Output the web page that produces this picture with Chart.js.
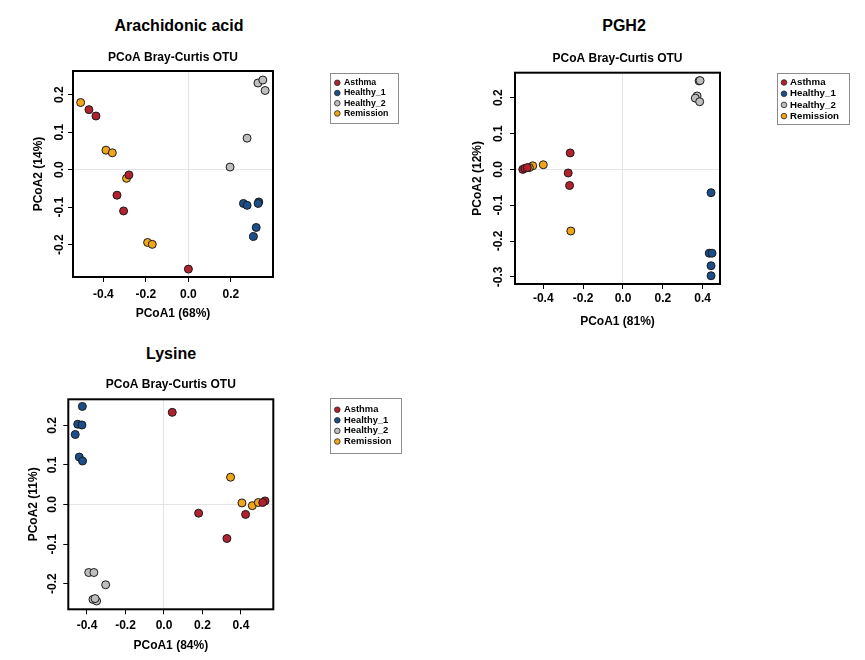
<!DOCTYPE html>
<html>
<head>
<meta charset="utf-8">
<title>PCoA Bray-Curtis OTU</title>
<script src="https://cdn.jsdelivr.net/npm/chart.js@4.4.1/dist/chart.umd.min.js"></script>
<style>
  body { margin: 0; background: #fff; width: 865px; height: 660px; position: relative; overflow: hidden; font-family: "Liberation Sans", Arial, sans-serif; }
  canvas { position: absolute; }
  .main-title { position: absolute; font-weight: bold; font-size: 16px; color: #000; transform: translate(-50%, -50%); white-space: nowrap; }
</style>
</head>
<body>
<div class="main-title" style="left:179px; top:26px">Arachidonic acid</div>
<div class="main-title" style="left:624px; top:26px">PGH2</div>
<div class="main-title" style="left:171px; top:354px">Lysine</div>
<canvas id="araChart" width="440" height="330" style="left:0; top:0"></canvas>
<canvas id="pghChart" width="425" height="330" style="left:440px; top:0"></canvas>
<canvas id="lysChart" width="440" height="330" style="left:0; top:330px"></canvas>
<script>
// groups, same order as the legend
const groups = ["Asthma", "Healthy_1", "Healthy_2", "Remission"];
const groupColors = ["#b2222e", "#1c4f8a", "#bebebe", "#f1a51a"];

// Arachidonic acid: [PCoA1, PCoA2]
const araAsthma = [[-0.468, 0.160], [-0.435, 0.143], [-0.280, -0.014], [-0.336, -0.068], [-0.305, -0.110], [0.000, -0.265]];
const araHealthy1 = [[0.259, -0.090], [0.276, -0.095], [0.331, -0.086], [0.328, -0.090], [0.319, -0.154], [0.306, -0.178]];
const araHealthy2 = [[0.327, 0.231], [0.350, 0.239], [0.361, 0.211], [0.276, 0.084], [0.196, 0.007]];
const araRemission = [[-0.507, 0.179], [-0.388, 0.052], [-0.358, 0.045], [-0.291, -0.023], [-0.192, -0.194], [-0.170, -0.199]];
const araXRange = [-0.543, 0.398];
const araYRange = [-0.286, 0.263];

// PGH2
const pghAsthma = [[-0.265, 0.046], [-0.275, -0.010], [-0.268, -0.045], [-0.503, 0.000], [-0.492, 0.003], [-0.480, 0.005]];
const pghHealthy1 = [[0.442, -0.065], [0.433, -0.234], [0.447, -0.234], [0.442, -0.269], [0.442, -0.297]];
const pghHealthy2 = [[0.382, 0.247], [0.387, 0.248], [0.372, 0.205], [0.363, 0.199], [0.385, 0.189]];
const pghRemission = [[-0.262, -0.172], [-0.400, 0.013], [-0.453, 0.010], [-0.470, 0.005]];
const pghXRange = [-0.542, 0.487];
const pghYRange = [-0.320, 0.270];

// Lysine
const lysAsthma = [[0.043, 0.233], [0.180, -0.022], [0.327, -0.086], [0.424, -0.025], [0.525, 0.009], [0.513, 0.005]];
const lysHealthy1 = [[-0.424, 0.248], [-0.448, 0.203], [-0.426, 0.201], [-0.461, 0.177], [-0.440, 0.120], [-0.423, 0.110]];
const lysHealthy2 = [[-0.391, -0.172], [-0.364, -0.172], [-0.303, -0.203], [-0.369, -0.240], [-0.350, -0.244], [-0.358, -0.238]];
const lysRemission = [[0.346, 0.069], [0.405, 0.004], [0.459, -0.003], [0.490, 0.005]];
const lysXRange = [-0.497, 0.568];
const lysYRange = [-0.265, 0.266];

Chart.defaults.font.family = "'Liberation Sans', Arial, sans-serif";

// black frame round the plot region
const plotBox = {
    id: "plotBox",
    afterDatasetsDraw: function (chart) {
        const a = chart.chartArea, ctx = chart.ctx;
        ctx.save();
        ctx.strokeStyle = "#000";
        ctx.lineWidth = 2;
        ctx.strokeRect(a.left, a.top, a.right - a.left, a.bottom - a.top);
        ctx.restore();
    }
};

// boxed legend, like R's legend()
const boxLegend = {
    id: "boxLegend",
    afterDraw: function (chart, args, o) {
        const ctx = chart.ctx;
        ctx.save();
        ctx.strokeStyle = "#8c8c8c";
        ctx.lineWidth = 1;
        ctx.strokeRect(o.left + 0.5, o.top + 0.5, o.width, o.height);
        ctx.font = "bold " + o.fontSize + "px 'Liberation Sans', Arial, sans-serif";
        ctx.textBaseline = "middle";
        ctx.textAlign = "left";
        chart.data.datasets.forEach(function (ds, i) {
            const y = o.top + o.firstRow + i * o.rowGap;
            ctx.beginPath();
            ctx.arc(o.left + o.markX, y, 2.8, 0, Math.PI * 2);
            ctx.fillStyle = ds.backgroundColor;
            ctx.fill();
            ctx.strokeStyle = "#222";
            ctx.lineWidth = 0.8;
            ctx.stroke();
            ctx.fillStyle = "#000";
            ctx.fillText(ds.label, o.left + o.textX, y);
        });
        ctx.restore();
    }
};

function tickLabel(v) {
    return Math.abs(v) < 1e-9 ? "0.0" : v.toFixed(1);
}

function zeroLine(c) {
    return c.tick && Math.abs(c.tick.value) < 1e-9 ? "#e4e4e4" : "rgba(0,0,0,0)";
}

function pcoaChart(id, xTitle, yTitle, series, xRange, yRange, g) {
    const bold12 = { size: 12, weight: "bold" };
    return new Chart(document.getElementById(id), {
        type: "scatter",
        data: {
            datasets: groups.map(function (name, i) {
                return {
                    label: name,
                    data: series[i].map(function (p) { return { x: p[0], y: p[1] }; }),
                    backgroundColor: groupColors[i],
                    borderColor: "#1a1a1a",
                    borderWidth: 1,
                    pointRadius: 4,
                    pointHoverRadius: 4
                };
            })
        },
        options: {
            responsive: false,
            animation: false,
            layout: { padding: { left: 0, top: 0, bottom: 0, right: g.padRight } },
            plugins: {
                legend: { display: false },
                tooltip: { enabled: false },
                title: {
                    display: true, text: "PCoA Bray-Curtis OTU", fullSize: false, color: "#000",
                    font: bold12, padding: { top: g.subTop, bottom: g.subBottom }
                },
                boxLegend: g.legend
            },
            scales: {
                x: {
                    type: "linear", min: xRange[0], max: xRange[1],
                    afterFit: function (s) { s.height = g.xHeight; },
                    border: { display: false },
                    grid: { color: zeroLine, lineWidth: 1, tickColor: "#000", tickLength: 5, tickWidth: 1 },
                    ticks: { stepSize: 0.2, includeBounds: false, padding: g.xTickPad, color: "#000", font: bold12, callback: tickLabel, maxRotation: 0 },
                    title: { display: true, text: xTitle, color: "#000", font: bold12, padding: { top: 0, bottom: g.xTitlePad } }
                },
                y: {
                    type: "linear", min: yRange[0], max: yRange[1],
                    afterFit: function (s) { s.width = g.yWidth; },
                    border: { display: false },
                    grid: { color: zeroLine, lineWidth: 1, tickColor: "#000", tickLength: 5, tickWidth: 1 },
                    ticks: { stepSize: 0.1, includeBounds: false, padding: g.yTickPad, color: "#000", font: bold12, callback: tickLabel, minRotation: 90, maxRotation: 90, crossAlign: "center" },
                    title: { display: true, text: yTitle, color: "#000", font: bold12, padding: { top: g.yTitlePad, bottom: 0 } }
                }
            }
        },
        plugins: [plotBox, boxLegend]
    });
}

pcoaChart("araChart", "PCoA1 (68%)", "PCoA2 (14%)",
    [araAsthma, araHealthy1, araHealthy2, araRemission], araXRange, araYRange,
    {
        padRight: 167, subTop: 50.4, subBottom: 6.2,
        xHeight: 53, xTickPad: 5, xTitlePad: 9.5,
        yWidth: 73, yTickPad: -2, yTitlePad: 31.1,
        legend: { left: 330, top: 73, width: 68, height: 50, markX: 7.3, textX: 14, firstRow: 9.8, rowGap: 10.2, fontSize: 8.8 }
    });

pcoaChart("pghChart", "PCoA1 (81%)", "PCoA2 (12%)",
    [pghAsthma, pghHealthy1, pghHealthy2, pghRemission], pghXRange, pghYRange,
    {
        padRight: 145, subTop: 51.5, subBottom: 6.8,
        xHeight: 46, xTickPad: 2.8, xTitlePad: 1.5,
        yWidth: 75, yTickPad: 1.3, yTitlePad: 30.6,
        legend: { left: 337, top: 73, width: 72, height: 51, markX: 7, textX: 13, firstRow: 9.5, rowGap: 11.2, fontSize: 9.7 }
    });

pcoaChart("lysChart", "PCoA1 (84%)", "PCoA2 (11%)",
    [lysAsthma, lysHealthy1, lysHealthy2, lysRemission], lysXRange, lysYRange,
    {
        padRight: 166.7, subTop: 47.5, subBottom: 7.4,
        xHeight: 50.7, xTickPad: 3.8, xTitlePad: 6.8,
        yWidth: 68.3, yTickPad: 0.2, yTitlePad: 26.8,
        legend: { left: 330, top: 68, width: 71, height: 55, markX: 7.3, textX: 14, firstRow: 11.7, rowGap: 10.6, fontSize: 9.4 }
    });
</script>
</body>
</html>
